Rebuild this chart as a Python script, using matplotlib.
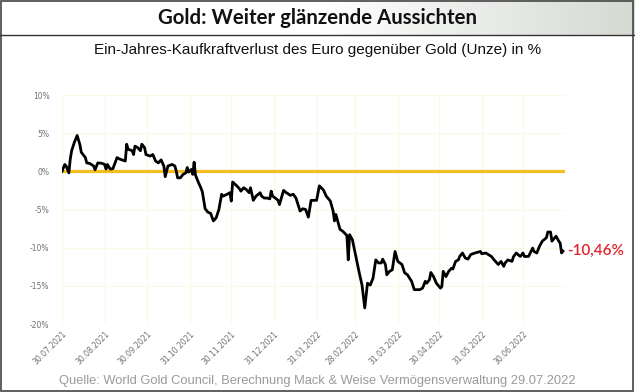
import numpy as np
import pandas as pd
import matplotlib.pyplot as plt
from matplotlib.patches import Rectangle
from matplotlib.lines import Line2D
from matplotlib.colors import LinearSegmentedColormap

# Tage seit 30.07.2021 und Kaufkraftverlust in %
tage = [0, 2, 3, 5, 6, 7, 9, 11, 13, 14, 17, 18, 20, 23, 24, 26, 29, 31, 32, 33,
        35, 37, 40, 42, 46, 47, 48, 51, 52, 53, 55, 57, 58, 60, 61, 64, 66, 68, 70, 72,
        74, 75, 77, 80, 82, 83, 84, 86, 88, 90, 91, 92, 94, 95, 96, 97, 99, 101, 102, 104,
        106, 108, 110, 112, 114, 116, 117, 120, 122, 123, 124, 127, 129, 130, 132, 134, 136, 137, 139, 141,
        144, 145, 147, 149, 151, 152, 153, 155, 157, 158, 161, 163, 166, 168, 170, 173, 175, 177, 179, 181,
        185, 187, 190, 192, 195, 197, 198, 199, 202, 204, 207, 208, 209, 211, 214, 216, 218, 220, 222, 224,
        226, 228, 230, 232, 233, 235, 236, 238, 240, 242, 244, 247, 249, 251, 254, 256, 260, 262, 264, 265,
        267, 268, 270, 272, 275, 276, 277, 279, 281, 283, 284, 286, 288, 289, 291, 293, 295, 297, 300, 304,
        305, 308, 312, 314, 317, 319, 321, 322, 324, 327, 328, 330, 333, 335, 336, 339, 342, 343, 345, 347,
        349, 352, 353, 355, 356, 358, 359, 361, 362, 363, 364]
werte = [0.0, 0.9, 0.7, -0.2, 1.6, 2.7, 3.8, 4.7, 3.5, 2.5, 1.8, 1.1, 1.05, 0.7, 0.2, 1.1, 1.05, 0.9, 0.3, 0.9,
         0.3, 0.35, 1.8, 1.6, 1.35, 3.55, 2.9, 2.7, 2.2, 3.3, 3.1, 2.7, 3.55, 3.1, 2.2, 2.0, 2.2, 1.35, 1.1, 1.5,
         0.7, -0.7, 0.7, 0.9, 0.7, 0.05, -0.85, -0.85, -0.4, -0.2, 0.5, -0.1, 0.25, -0.4, 1.2, -0.5, -1.4, -2.2, -2.7, -4.9,
         -5.35, -5.5, -6.5, -6.1, -5.0, -3.0, -3.25, -3.0, -2.8, -3.9, -1.4, -1.9, -2.3, -2.6, -2.15, -2.4, -2.8, -2.15, -3.8, -3.25,
         -2.8, -3.25, -3.5, -3.5, -3.6, -2.6, -3.25, -3.5, -3.8, -4.35, -2.5, -2.8, -3.15, -3.0, -3.5, -5.2, -4.9, -5.0, -6.0, -3.8,
         -3.8, -1.9, -2.45, -3.25, -3.9, -5.2, -6.5, -5.65, -7.6, -7.85, -8.4, -11.6, -8.3, -8.95, -11.6, -13.3, -14.9, -17.9, -14.65, -14.9,
         -14.0, -11.6, -12.0, -12.0, -11.5, -12.2, -13.55, -13.1, -12.9, -10.5, -11.8, -12.2, -13.3, -13.55, -14.4, -15.5, -15.5, -15.3, -14.4, -14.65,
         -14.2, -13.25, -13.8, -14.65, -15.3, -15.1, -13.1, -13.8, -13.1, -12.7, -12.8, -11.8, -11.6, -11.15, -10.7, -11.35, -11.5, -10.9, -10.7, -10.5,
         -10.8, -10.7, -11.15, -11.6, -12.2, -11.8, -12.45, -12.0, -11.6, -11.8, -11.2, -10.7, -11.15, -10.7, -11.15, -11.15, -10.05, -10.5, -10.7, -9.8,
         -9.15, -8.7, -7.95, -7.95, -9.15, -8.7, -8.5, -9.15, -9.4, -10.7, -10.46]

tick_daten = ['30.07.2021', '30.08.2021', '30.09.2021', '31.10.2021', '30.11.2021', '31.12.2021',
              '31.01.2022', '28.02.2022', '31.03.2022', '30.04.2022', '31.05.2022', '30.06.2022']
y_ticks = [10, 5, 0, -5, -10, -15, -20]

start = pd.Timestamp('2021-07-30')
daten = start + pd.to_timedelta(tage, unit='D')
ticks = pd.to_datetime(tick_daten, format='%d.%m.%Y')

fig = plt.figure(figsize=(6.35, 3.92), dpi=100)
W, H = 635, 392

# Titelleiste mit Verlauf
bar = fig.add_axes([0, 1 - 35 / H, 1, 35 / H])
grad = np.linspace(0, 1, 256)[None, :]
cmap = LinearSegmentedColormap.from_list('bar', ['#ffffff', '#ffffff', '#d5dad3'])
bar.imshow(grad, aspect='auto', cmap=cmap, extent=[0, 1, 0, 1])
bar.set_axis_off()
fig.text(0.5, 1 - 18 / H, 'Gold: Weiter glänzende Aussichten', ha='center', va='center',
         fontsize=14.7, fontweight='bold', family='Lato', color='#111111')
fig.add_artist(Line2D([0, 1], [1 - 35 / H, 1 - 35 / H], color='#333333', lw=1))
fig.add_artist(Rectangle((0.5 / W, 1.5 / H), 1 - 3 / W, 1 - 2.5 / H, fill=False,
                         edgecolor='#444444', lw=1.2, transform=fig.transFigure))

fig.text(0.5, 1 - 50 / H, 'Ein-Jahres-Kaufkraftverlust des Euro gegenüber Gold (Unze) in %',
         ha='center', va='center', fontsize=11, family='Liberation Sans', color='#111111')
fig.text(0.5, 1 - 381 / H,
         'Quelle: World Gold Council, Berechnung Mack & Weise Vermögensverwaltung 29.07.2022',
         ha='center', va='center', fontsize=9.3, family='Liberation Sans', color='#9a9a9a')

# Diagramm
x0, x1 = 62, 565
ax = fig.add_axes([x0 / W, 1 - 324 / H, (x1 - x0) / W, (324 - 95) / H])
ax.plot([start, start + pd.Timedelta(days=365.5)], [0, 0], color='#f5bd1f', lw=2.3, zorder=2)
ax.plot(daten, werte, color='black', lw=2.0, zorder=3)
ax.set_xlim(start, start + pd.Timedelta(days=365.5))
ax.set_ylim(-20, 10)
ax.set_yticks(y_ticks)
ax.set_yticklabels([f'{v}%' for v in y_ticks])
ax.set_xticks(ticks)
ax.set_xticklabels(tick_daten, rotation=45, ha='right', rotation_mode='anchor')
ax.tick_params(axis='both', length=0, labelsize=5.5, labelcolor='#707070')
ax.tick_params(axis='y', pad=9)
ax.tick_params(axis='x', pad=4)
ax.grid(True, color='#fdf8e4', lw=0.8)
ax.set_axisbelow(True)
for s in ax.spines.values():
    s.set_visible(False)

ax.annotate('-10,46%', xy=(daten[-1], werte[-1]), xytext=(3, 0), textcoords='offset points',
            ha='left', va='center', fontsize=11, family='Lato', fontweight='semibold',
            color='#e0262b')

fig.savefig('out.png', dpi=100)
